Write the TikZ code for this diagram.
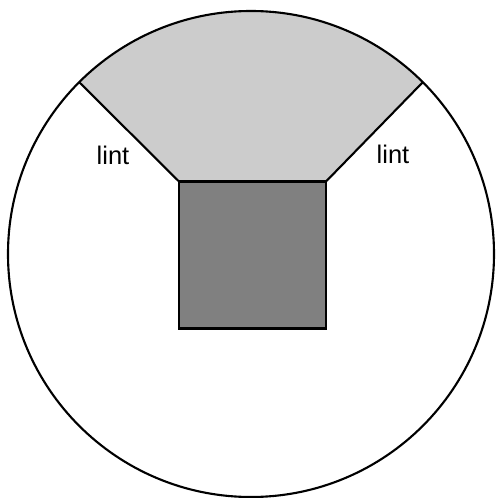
\documentclass[tikz,border=0pt]{standalone}
\usepackage{fontspec}
\setmainfont{Liberation Sans}
\usetikzlibrary{calc}

\definecolor{lightgrey}{HTML}{CCCCCC}
\definecolor{darkgrey}{HTML}{808080}

\begin{document}
\begin{tikzpicture}[x=0.02cm, y=0.02cm, line width=1.2pt, line join=miter]

\useasboundingbox (0,0) rectangle (495,498);

\pgfmathsetmacro{\r}{243}
\pgfmathsetmacro{\s}{73.5}

\coordinate (O) at (251, 244);
\coordinate (S) at (252.5, 243);
\coordinate (A) at ($(O) + (45:\r)$);
\coordinate (B) at ($(O) + (135:\r)$);
\coordinate (TL) at ($(S) + (-\s, \s)$);
\coordinate (TR) at ($(S) + (\s, \s)$);
\coordinate (BR) at ($(S) + (\s, -\s)$);

\fill[lightgrey] (A) arc (45:135:\r) -- (TL) -- (TR) -- cycle;

\draw[black] (O) circle (\r);

\draw[black] (B) -- (TL);
\draw[black] (A) -- (TR);

\draw[black, fill=darkgrey] (TL) rectangle (BR);

\node[font=\fontsize{14.5}{16}\selectfont] (lintL) at (113, 343) {lint};
\node[font=\fontsize{14.5}{16}\selectfont] (lintR) at (393, 344) {lint};

\end{tikzpicture}
\end{document}
